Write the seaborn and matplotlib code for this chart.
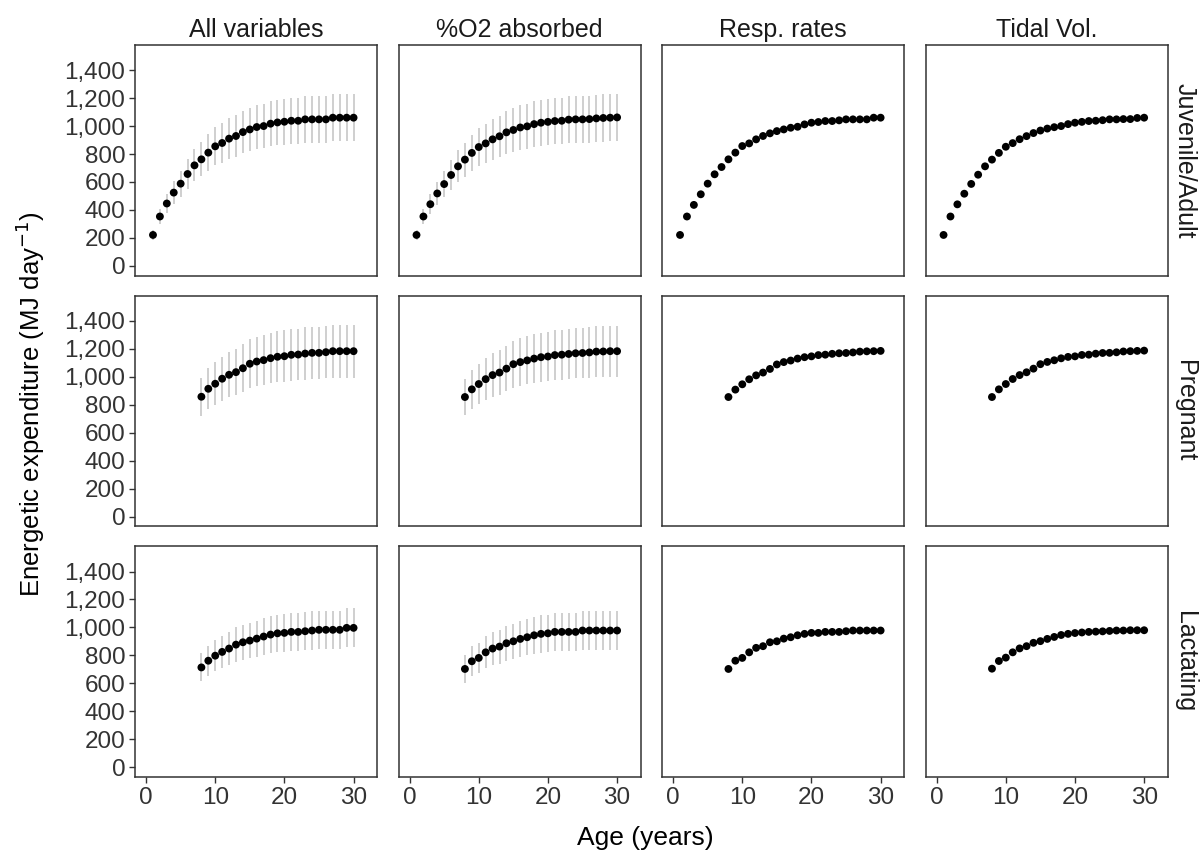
import numpy as np
import pandas as pd
import matplotlib
matplotlib.use("Agg")
import matplotlib.pyplot as plt
import matplotlib.ticker as mticker
import seaborn as sns

# ---------------- data ----------------
models = ["All variables", "%O2 absorbed", "Resp. rates", "Tidal Vol."]
states = ["Juvenile/Adult", "Pregnant", "Lactating"]

ages_juv = list(range(1, 31))
ages_rep = list(range(8, 31))

# Juvenile/Adult
juv_all = [221, 353, 446, 524, 588, 657, 719, 762, 810, 855, 879, 910, 929, 957, 976,
           993, 1000, 1017, 1026, 1031, 1038, 1038, 1048, 1048, 1048, 1048, 1060, 1060, 1060, 1060]
juv_all_err = [35, 56, 71, 84, 94, 105, 115, 122, 130, 137, 141, 146, 149, 153, 156,
               159, 160, 163, 164, 165, 166, 166, 168, 168, 168, 168, 170, 170, 170, 170]
juv_o2 = [221, 353, 441, 518, 585, 650, 712, 760, 808, 850, 876, 905, 927, 955, 972,
          990, 998, 1014, 1024, 1030, 1036, 1038, 1046, 1048, 1048, 1050, 1055, 1058, 1060, 1062]
juv_o2_err = [35, 56, 70, 83, 94, 104, 114, 121, 129, 136, 140, 145, 148, 153, 155,
              158, 160, 162, 164, 165, 166, 166, 167, 168, 168, 168, 169, 169, 170, 170]
juv_resp = [221, 353, 436, 512, 588, 655, 707, 762, 810, 857, 876, 905, 929, 948, 964,
            976, 988, 995, 1012, 1024, 1029, 1036, 1036, 1041, 1048, 1048, 1048, 1048, 1060, 1060]
juv_tidal = [221, 353, 440, 516, 586, 652, 712, 760, 808, 852, 878, 906, 928, 950, 968,
             982, 992, 1000, 1014, 1024, 1030, 1036, 1038, 1042, 1048, 1048, 1050, 1050, 1058, 1060]

# Pregnant
preg_all = [857, 914, 950, 986, 1014, 1033, 1061, 1093, 1109, 1119, 1133, 1143, 1147,
            1157, 1159, 1166, 1171, 1171, 1176, 1183, 1183, 1183, 1183]
preg_all_err = [137, 146, 152, 158, 162, 165, 170, 175, 177, 179, 181, 183, 184,
                185, 185, 187, 187, 187, 188, 189, 189, 189, 189]
preg_o2 = [855, 910, 948, 983, 1012, 1030, 1058, 1090, 1105, 1117, 1130, 1140, 1145,
           1155, 1158, 1163, 1168, 1170, 1174, 1180, 1181, 1183, 1183]
preg_o2_err = [130, 140, 146, 152, 156, 159, 163, 168, 170, 172, 174, 176, 177,
               178, 178, 180, 180, 180, 181, 182, 182, 182, 182]
preg_resp = [855, 908, 946, 982, 1010, 1030, 1056, 1088, 1105, 1116, 1130, 1140, 1146,
             1155, 1158, 1164, 1168, 1170, 1174, 1180, 1182, 1183, 1185]
preg_tidal = [855, 910, 948, 984, 1012, 1032, 1058, 1090, 1106, 1118, 1132, 1142, 1146,
              1156, 1158, 1165, 1170, 1171, 1175, 1181, 1183, 1185, 1187]

# Lactating
lact_all = [714, 762, 798, 825, 849, 877, 894, 906, 920, 935, 949, 958, 961,
            968, 968, 973, 978, 983, 983, 983, 983, 997, 997]
lact_all_err = [100, 107, 112, 116, 119, 123, 125, 127, 129, 131, 133, 134, 135,
                136, 136, 136, 137, 138, 138, 138, 138, 140, 140]
lact_o2 = [703, 758, 782, 822, 849, 863, 887, 901, 918, 930, 944, 954, 958,
           968, 968, 968, 968, 978, 978, 978, 978, 978, 978]
lact_o2_err = [100, 107, 110, 115, 119, 121, 124, 126, 129, 130, 132, 134, 134,
               136, 136, 136, 136, 137, 137, 137, 137, 137, 137]
lact_resp = [703, 762, 782, 822, 854, 866, 894, 901, 920, 930, 944, 954, 961,
             961, 968, 968, 968, 973, 978, 978, 978, 978, 978]
lact_tidal = [705, 760, 784, 822, 850, 866, 890, 902, 918, 932, 946, 954, 960,
              964, 968, 970, 972, 975, 978, 978, 980, 980, 980]

series = {
    ("Juvenile/Adult", "All variables"): (ages_juv, juv_all, juv_all_err),
    ("Juvenile/Adult", "%O2 absorbed"): (ages_juv, juv_o2, juv_o2_err),
    ("Juvenile/Adult", "Resp. rates"): (ages_juv, juv_resp, None),
    ("Juvenile/Adult", "Tidal Vol."): (ages_juv, juv_tidal, None),
    ("Pregnant", "All variables"): (ages_rep, preg_all, preg_all_err),
    ("Pregnant", "%O2 absorbed"): (ages_rep, preg_o2, preg_o2_err),
    ("Pregnant", "Resp. rates"): (ages_rep, preg_resp, None),
    ("Pregnant", "Tidal Vol."): (ages_rep, preg_tidal, None),
    ("Lactating", "All variables"): (ages_rep, lact_all, lact_all_err),
    ("Lactating", "%O2 absorbed"): (ages_rep, lact_o2, lact_o2_err),
    ("Lactating", "Resp. rates"): (ages_rep, lact_resp, None),
    ("Lactating", "Tidal Vol."): (ages_rep, lact_tidal, None),
}

x_ticks = [0, 10, 20, 30]
y_ticks = [0, 200, 400, 600, 800, 1000, 1200, 1400]

rows = []
for (st, mo), (ag, val, err) in series.items():
    for i, a in enumerate(ag):
        rows.append({"State": st, "Model": mo, "Age": a, "Energy": val[i],
                     "Err": (err[i] if err is not None else np.nan)})
df = pd.DataFrame(rows)

# ---------------- style ----------------
sns.set_theme(style="white")
plt.rcParams["font.family"] = ["Liberation Sans", "DejaVu Sans"]
edge = "#333333"
txt = "#333333"


def draw(data, **kw):
    ax = plt.gca()
    d = data.dropna(subset=["Err"])
    if len(d):
        ax.errorbar(d["Age"], d["Energy"], yerr=d["Err"], fmt="none",
                    ecolor="#CFCFCF", elinewidth=1.4, capsize=0, zorder=1)
    sns.scatterplot(data=data, x="Age", y="Energy", color="black", s=32,
                    edgecolor="none", ax=ax, zorder=2)


g = sns.FacetGrid(df, row="State", col="Model", row_order=states, col_order=models,
                  sharex=True, sharey=True, margin_titles=True, despine=False)
g.map_dataframe(draw)

fig = g.figure
fig.set_size_inches(12.02, 8.55)
fig.subplots_adjust(left=135 / 1202, right=1168 / 1202, top=1 - 45 / 855,
                    bottom=1 - 777 / 855, wspace=0.087, hspace=0.087)

g.set_titles(col_template="{col_name}", row_template="{row_name}")
g.set_axis_labels("", "")
nrow, ncol = g.axes.shape
for r in range(nrow):
    for c in range(ncol):
        ax = g.axes[r, c]
        ax.set_xlim(-1.6, 33.45)
        ax.set_ylim(-70, 1580)
        ax.set_xticks(x_ticks)
        ax.set_yticks(y_ticks)
        ax.yaxis.set_major_formatter(mticker.FuncFormatter(lambda v, p: f"{int(v):,}"))
        for s in ax.spines.values():
            s.set_color(edge)
            s.set_linewidth(1.1)
        ax.tick_params(axis="both", which="major", length=4, width=1.0, color=edge,
                       labelsize=17.5, labelcolor=txt, pad=3)
        ax.tick_params(axis="x", bottom=(r == nrow - 1), labelbottom=(r == nrow - 1))
        ax.tick_params(axis="y", left=(c == 0), labelleft=(c == 0))
        ax.set_xlabel("")
        ax.set_ylabel("")

for ax in g.axes[0, :]:
    ax.title.set_fontsize(18)
    ax.title.set_color("#1a1a1a")
    ax.title.set_y(1.015)

for t in g._margin_titles_texts:
    t.set_fontsize(18)
    t.set_color("#1a1a1a")

fig.text(645 / 1202, 1 - 838 / 855, "Age (years)", ha="center", va="center",
         fontsize=19, color="black")
fig.text(30 / 1202, 1 - 404 / 855, "Energetic expenditure (MJ day$^{-1}$)",
         ha="center", va="center", rotation=90, fontsize=18.5, color="black")

fig.savefig("out.png", dpi=100)
